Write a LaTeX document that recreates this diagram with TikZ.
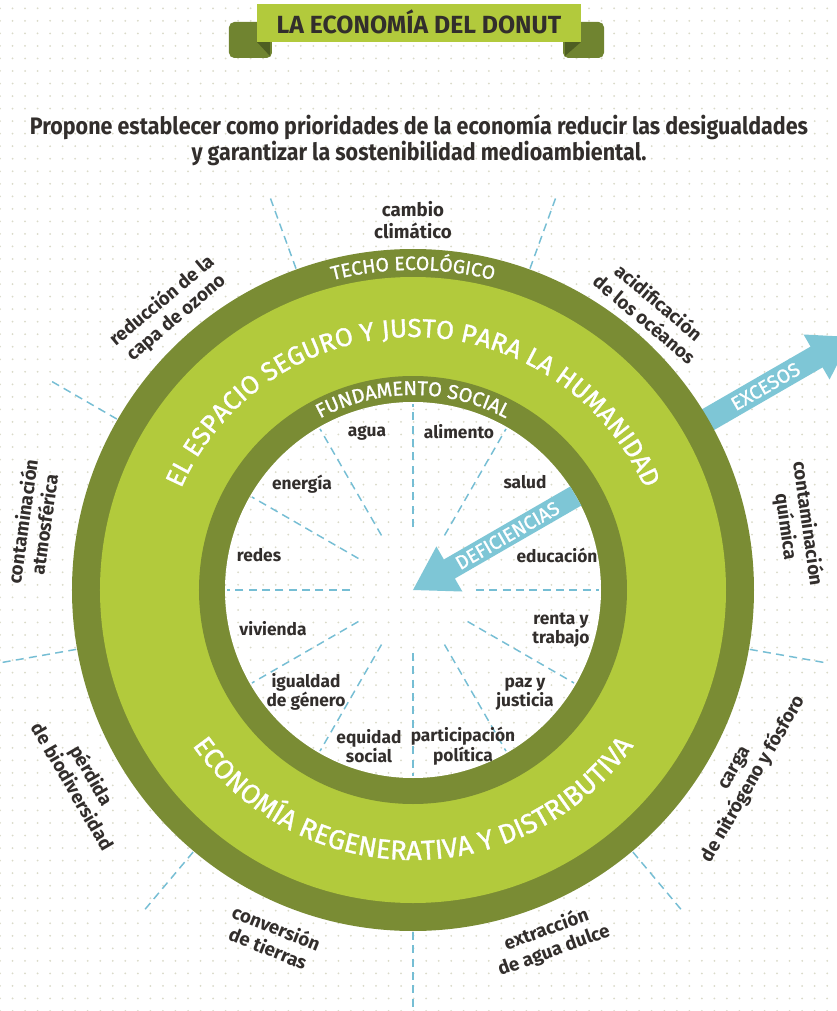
\documentclass[tikz,border=0pt]{standalone}
\usepackage{fontspec}
\setmainfont{Fira Sans}
\newfontfamily\condfont[FakeStretch=0.9]{Fira Sans}
\newfontfamily\anillofont[FakeBold=1.2]{Fira Sans}
\usetikzlibrary{decorations.text,patterns.meta}

\definecolor{techo}{RGB}{122,140,52}
\definecolor{espacio}{RGB}{178,202,60}
\definecolor{flecha}{RGB}{126,198,214}
\definecolor{guion}{RGB}{118,190,212}
\definecolor{tinta}{RGB}{50,46,44}
\definecolor{punto}{RGB}{218,218,200}
\definecolor{cinta}{RGB}{112,132,48}
\definecolor{pliegue}{RGB}{78,94,34}

\tikzset{
  limite/.style={font=\bfseries\fontsize{14}{16.5}\selectfont, text=tinta, align=center, inner sep=0.75pt},
  necesidad/.style={font=\bfseries\fontsize{13}{12.5}\selectfont, text=tinta, align=center, inner sep=0.75pt},
  divisor/.style={guion, line width=1.1pt, dash pattern=on 6pt off 4pt},
  fondo/.style={pattern={Dots[distance=9.4pt, radius=0.75pt]}, pattern color=punto},
  rotulo/.style={font=\anillofont\fontsize{14.5}{14.5}\selectfont, text=white, inner sep=0.75pt},
}

\begin{document}
\begin{tikzpicture}[x=0.75pt,y=0.75pt]
	% centre of the donut at the origin, 1 unit = 1 px
	\useasboundingbox (-413,-421) rectangle (423,590);
	\fill[white] (-413,-421) rectangle (423,590);
	\fill[fondo] (-413,-421) rectangle (423,590);
	
	%Shape: ribbon tails [id:cinta]
	\fill[cinta, rounded corners=4] (-184,568) rectangle (-141,532);
	\fill[cinta, rounded corners=4] (150,568) rectangle (191,532);
	\fill[pliegue] (-156,548) -- (-143,548) -- (-143,534) -- cycle;
	\fill[pliegue] (168,548) -- (152,548) -- (152,534) -- cycle;
	%Shape: banner [id:banda]
	\fill[espacio] (-156,586) rectangle (168,548);
	
	% Text Node
	\node[font=\bfseries\fontsize{18.6}{18.6}\selectfont, text=tinta, inner sep=0.75pt] (titulo) at (6,568) {LA ECONOMÍA DEL DONUT};
	% Text Node
	\node[font=\condfont\bfseries\fontsize{17.9}{16.5}\selectfont, text=tinta, align=center, inner sep=0.75pt] (lema) at (6,450) {Propone establecer como prioridades de la economía reducir las desigualdades\\y garantizar la sostenibilidad medioambiental.};
	
	%Straight Lines: outer dividers
	\foreach \a in {110,70,-10,-50,-90,-130,-170,150}
		\draw[divisor] (\a:342) -- (\a:418);
	
	%Shape: arrow EXCESOS
	\begin{scope}[rotate=30]
		\fill[flecha] (330,-12) -- (466,-12) -- (466,-26) -- (506,0) -- (466,26) -- (466,12) -- (330,12) -- cycle;
	\end{scope}
	
	%Shape: rings
	\fill[techo] (0,0) circle[radius=341];
	\fill[espacio] (0,0) circle[radius=313];
	\fill[techo] (0,0) circle[radius=214];
	\fill[white] (0,0) circle[radius=188];
	\fill[fondo] (0,0) circle[radius=188];
	
	%Straight Lines: inner dividers
	\foreach \a in {90,60,0,-30,-60,-90,-120,-150,180,150,120}
		\draw[divisor] (\a:63) -- (\a:186);
	
	%Shape: arrow DEFICIENCIAS
	\begin{scope}[rotate=30]
		\fill[flecha] (188,-11) -- (42,-11) -- (42,-26) -- (0,0) -- (42,26) -- (42,11) -- (188,11) -- cycle;
	\end{scope}
	
	% Text Node
	\node[rotulo, rotate=30] (excesos) at (30:407) {EXCESOS};
	% Text Node
	\node[rotulo, rotate=30] (deficiencias) at (30:109) {DEFICIENCIAS};
	
	% curved texts on the rings
	\path[decorate, decoration={text along path, text align=center, text color=white,
		text={|\anillofont\fontsize{14.5}{14.5}\selectfont|TECHO ECOLÓGICO}}]
		(180:320) arc[start angle=180, end angle=0, radius=320];
	\path[decorate, decoration={text along path, text align=center, text color=white,
		text={|\anillofont\fontsize{15}{15}\selectfont|FUNDAMENTO SOCIAL}}]
		(180:195) arc[start angle=180, end angle=0, radius=195];
	\path[decorate, decoration={text along path, text align=center, text color=white,
		text={|\anillofont\fontsize{19.5}{19.5}\selectfont|EL ESPACIO SEGURO Y JUSTO PARA LA HUMANIDAD}}]
		(180:253) arc[start angle=180, end angle=0, radius=253];
	\path[decorate, decoration={text along path, text align=center, text color=white,
		text={|\anillofont\fontsize{20.5}{20.5}\selectfont|ECONOMÍA REGENERATIVA Y DISTRIBUTIVA}}]
		(-180:270) arc[start angle=-180, end angle=0, radius=270];
	
	% Text Node: planetary boundaries
	\node[limite] (clima) at (90:370) {cambio\\climático};
	\node[limite, rotate=-40] (oceanos) at (49.5:368) {acidificación\\de los océanos};
	\node[limite, rotate=-82] (quimica) at (9.6:389) {contaminación\\química};
	\node[limite, rotate=60] (nitrogeno) at (-29:380) {carga\\de nitrógeno y fósforo};
	\node[limite, rotate=20] (aguadulce) at (-68.6:376) {extracción\\de agua dulce};
	\node[limite, rotate=-22] (tierras) at (-112:375) {conversión\\de tierras};
	\node[limite, rotate=-60] (biodiversidad) at (-150:381) {pérdida\\de biodiversidad};
	\node[limite, rotate=82] (atmosfera) at (170:386) {contaminación\\atmosférica};
	\node[limite, rotate=40] (ozono) at (131:372) {reducción de la\\capa de ozono};
	
	% Text Node: social foundation
	\node[necesidad] (agua) at (-46,157) {agua};
	\node[necesidad] (alimento) at (46,158) {alimento};
	\node[necesidad] (energia) at (-111,106) {energía};
	\node[necesidad] (salud) at (112,108) {salud};
	\node[necesidad] (redes) at (-154,35) {redes};
	\node[necesidad] (educacion) at (144,35) {educación};
	\node[necesidad] (vivienda) at (-140,-39) {vivienda};
	\node[necesidad] (renta) at (148,-40) {renta y\\trabajo};
	\node[necesidad] (genero) at (-107,-102) {igualdad\\de género};
	\node[necesidad] (paz) at (112,-104) {paz y\\justicia};
	\node[necesidad] (equidad) at (-44,-156) {equidad\\social};
	\node[necesidad] (politica) at (50,-156) {participación\\política};
	
\end{tikzpicture}
\end{document}
